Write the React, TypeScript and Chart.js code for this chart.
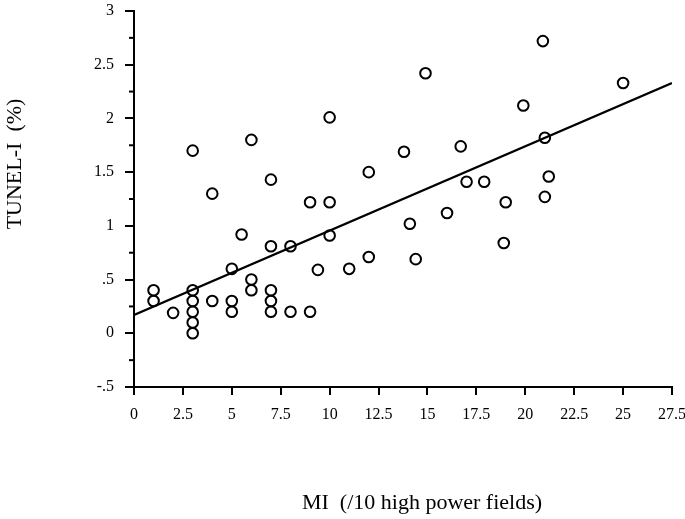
import React, { useEffect, useRef } from "react";
import { Chart, registerables } from "chart.js";

Chart.register(...registerables);

const miValues = [
  1, 1, 2, 3, 3, 3, 3, 3, 3, 4, 4, 5, 5, 5, 5.5, 6, 6, 6, 7, 7, 7, 7, 7, 8, 8,
  9, 9, 9.4, 10, 10, 10, 11, 12, 12, 13.8, 14.1, 14.4, 14.9, 16, 16.7, 17, 17.9,
  18.9, 19, 19.9, 20.9, 21, 21, 21.2, 25,
];
const tunelValues = [
  0.4, 0.3, 0.19, 0.4, 0.3, 0.2, 0.1, 0.0, 1.7, 1.3, 0.3, 0.6, 0.3, 0.2, 0.92,
  1.8, 0.5, 0.4, 1.43, 0.81, 0.4, 0.3, 0.2, 0.81, 0.2, 1.22, 0.2, 0.59, 2.01,
  1.22, 0.91, 0.6, 1.5, 0.71, 1.69, 1.02, 0.69, 2.42, 1.12, 1.74, 1.41, 1.41,
  0.84, 1.22, 2.12, 2.72, 1.82, 1.27, 1.46, 2.33,
];
const fitX = [0, 27.5];
const fitY = [0.17, 2.33];

const xTitle = "MI  (/10 high power fields)";
const yTitle = "TUNEL-I  (%)";
const yTickLabels: Record<string, string> = {
  "-0.5": "-.5",
  "0": "0",
  "0.5": ".5",
  "1": "1",
  "1.5": "1.5",
  "2": "2",
  "2.5": "2.5",
  "3": "3",
};

const FONT = "'Liberation Serif', 'Times New Roman', serif";

export default function App() {
  const ref = useRef<HTMLCanvasElement | null>(null);

  useEffect(() => {
    if (!ref.current) return;
    const extras = {
      id: "extras",
      afterDraw(chart: any) {
        const { ctx, chartArea, scales } = chart;
        const ys = scales.y;
        ctx.save();
        ctx.strokeStyle = "#000";
        ctx.lineWidth = 2;
        for (let v = -0.25; v < 3; v += 0.5) {
          const py = ys.getPixelForValue(v);
          ctx.beginPath();
          ctx.moveTo(chartArea.left - 5, py);
          ctx.lineTo(chartArea.left, py);
          ctx.stroke();
        }
        ctx.fillStyle = "#000";
        ctx.font = `22px ${FONT}`;
        ctx.textAlign = "center";
        ctx.textBaseline = "middle";
        ctx.fillText(xTitle, 422, 503);
        ctx.translate(15, 164);
        ctx.rotate(-Math.PI / 2);
        ctx.fillText(yTitle, 0, 0);
        ctx.restore();
      },
    };

    const chart = new Chart(ref.current, {
      type: "scatter",
      data: {
        datasets: [
          {
            type: "scatter",
            data: miValues.map((x, i) => ({ x, y: tunelValues[i] })),
            pointStyle: "circle",
            pointRadius: 5.3,
            pointBorderWidth: 2,
            pointBorderColor: "#000",
            pointBackgroundColor: "rgba(255,255,255,0)",
          },
          {
            type: "line",
            data: fitX.map((x, i) => ({ x, y: fitY[i] })),
            borderColor: "#000",
            borderWidth: 2.4,
            pointRadius: 0,
            fill: false,
          } as any,
        ],
      },
      options: {
        animation: false,
        responsive: true,
        maintainAspectRatio: false,
        layout: { padding: { top: 11, right: 13, left: 0, bottom: 0 } },
        plugins: {
          legend: { display: false },
          tooltip: { enabled: false },
        },
        scales: {
          x: {
            type: "linear",
            min: 0,
            max: 27.5,
            afterFit(scale: any) {
              scale.height = 132;
              scale.paddingLeft = 0;
              scale.paddingRight = 0;
            },
            border: { display: true, color: "#000", width: 2 },
            grid: {
              drawOnChartArea: false,
              drawTicks: true,
              tickLength: 8,
              color: "#000",
              lineWidth: 2,
            },
            ticks: {
              stepSize: 2.5,
              color: "#000",
              padding: 10,
              maxRotation: 0,
              autoSkip: false,
              font: { family: FONT, size: 16 },
              callback: (v: any) => String(v),
            },
          },
          y: {
            type: "linear",
            min: -0.5,
            max: 3,
            afterFit(scale: any) {
              scale.width = 134;
              scale.paddingTop = 0;
              scale.paddingBottom = 0;
            },
            border: { display: true, color: "#000", width: 2 },
            grid: {
              drawOnChartArea: false,
              drawTicks: true,
              tickLength: 9,
              color: "#000",
              lineWidth: 2,
            },
            ticks: {
              stepSize: 0.5,
              color: "#000",
              padding: 11,
              autoSkip: false,
              font: { family: FONT, size: 16 },
              callback: (v: any) => yTickLabels[String(v)] ?? String(v),
            },
          },
        },
      },
      plugins: [extras],
    } as any);

    return () => chart.destroy();
  }, []);

  return (
    <div
      style={{
        position: "fixed",
        left: 0,
        top: 0,
        width: 685,
        height: 519,
        background: "#fff",
      }}
    >
      <canvas ref={ref} />
    </div>
  );
}
